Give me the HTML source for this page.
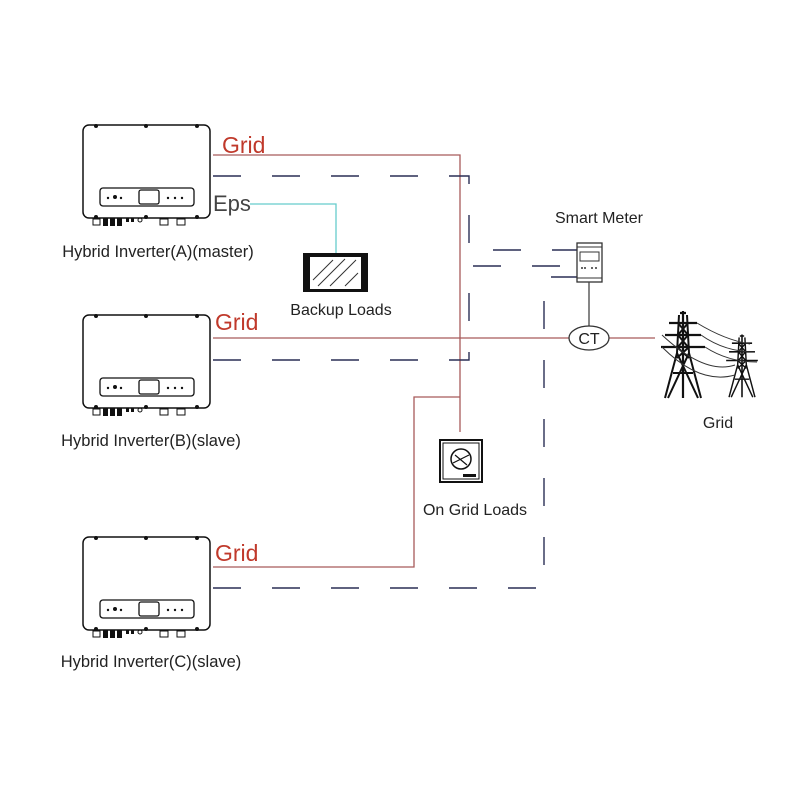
<!DOCTYPE html>
<html><head><meta charset="utf-8"><style>
html,body{margin:0;padding:0;background:#fff;}
svg{display:block;font-family:"Liberation Sans",sans-serif;}
</style></head><body>
<svg width="800" height="800" viewBox="0 0 800 800" xmlns="http://www.w3.org/2000/svg">
<defs>
<g id="inv">
  <rect x="0" y="0" width="127" height="93" rx="6" fill="#fff" stroke="#111" stroke-width="1.5"/>
  <circle cx="13" cy="1" r="2" fill="#111"/><circle cx="63" cy="1" r="2" fill="#111"/><circle cx="114" cy="1" r="2" fill="#111"/>
  <circle cx="13" cy="92" r="2" fill="#111"/><circle cx="63" cy="92" r="2" fill="#111"/><circle cx="114" cy="92" r="2" fill="#111"/>
  <rect x="17" y="63" width="94" height="18" rx="3" fill="none" stroke="#111" stroke-width="1.3"/>
  <rect x="56" y="65" width="20" height="14" rx="2" fill="none" stroke="#111" stroke-width="1.3"/>
  <circle cx="25" cy="73" r="1.2" fill="#111"/><circle cx="32" cy="72" r="2" fill="#111"/><circle cx="38" cy="73" r="1.2" fill="#111"/>
  <circle cx="85" cy="73" r="1.2" fill="#111"/><circle cx="92" cy="73" r="1.2" fill="#111"/><circle cx="99" cy="73" r="1.2" fill="#111"/>
  <rect x="10" y="94" width="7" height="6" fill="none" stroke="#111"/>
  <rect x="20" y="93" width="5" height="8" fill="#111"/><rect x="27" y="93" width="5" height="8" fill="#111"/><rect x="34" y="93" width="5" height="8" fill="#111"/>
  <rect x="43" y="93" width="3" height="4" fill="#111"/><rect x="48" y="93" width="3" height="4" fill="#111"/><circle cx="57" cy="95" r="2" fill="none" stroke="#111"/>
  <rect x="77" y="94" width="8" height="6" fill="none" stroke="#111"/><rect x="94" y="94" width="8" height="6" fill="none" stroke="#111"/>
</g>
<g id="tower">
  <path d="M0,-2 L0,85 M-3,0 L3,0 M-14,10 L14,10 M-18,22 L18,22 M-22,34 L22,34" stroke="#111" stroke-width="2.2" fill="none"/>
  <path d="M-4,2 L-6,40 L-18,85 M4,2 L6,40 L18,85 M-6,40 L15,85 M6,40 L-15,85 M-10,60 L10,60 M-5,10 L5,22 M5,10 L-5,22 M-5,22 L5,34 M5,22 L-5,34 M-6,34 L6,45 M6,34 L-6,45" stroke="#111" stroke-width="2" fill="none"/>
</g>
</defs>

<use href="#inv" x="83" y="125"/>
<use href="#inv" x="83" y="315"/>
<use href="#inv" x="83" y="537"/>
<text x="158" y="257" font-size="16.5" text-anchor="middle" fill="#222">Hybrid Inverter(A)(master)</text>
<text x="151" y="446" font-size="16.5" text-anchor="middle" fill="#222">Hybrid Inverter(B)(slave)</text>
<text x="151" y="667" font-size="16.5" text-anchor="middle" fill="#222">Hybrid Inverter(C)(slave)</text>

<g stroke="#a85a5a" stroke-width="1.3" fill="none">
  <path d="M213,155 L460,155 L460,432"/>
  <path d="M213,338 L569,338 M609,338 L655,338"/>
  <path d="M213,567 L414,567 L414,397 L460,397"/>
</g>
<text x="222" y="153" font-size="23" fill="#c0392b">Grid</text>
<text x="215" y="330" font-size="23" fill="#c0392b">Grid</text>
<text x="215" y="561" font-size="23" fill="#c0392b">Grid</text>

<g stroke="#2a2f55" stroke-width="1.4" fill="none" stroke-dasharray="28 31">
  <path d="M213,176 L469,176 L469,250 L577,250"/>
  <path d="M213,360 L469,360 L469,266 L577,266"/>
  <path d="M213,588 L544,588 L544,277 L577,277"/>
</g>

<text x="213" y="211" font-size="22" fill="#444">Eps</text>
<path d="M250,204 L336,204 L336,253" stroke="#66cccc" stroke-width="1.3" fill="none"/>
<rect x="303" y="253" width="65" height="39" fill="#111"/>
<rect x="310" y="257" width="51" height="32" fill="#fff"/>
<path d="M313,280 L333,260 M318,286 L345,259 M330,286 L356,260 M345,286 L358,273" stroke="#333" stroke-width="1"/>
<text x="341" y="315" font-size="16" text-anchor="middle" fill="#222">Backup Loads</text>

<rect x="440" y="440" width="42" height="42" fill="none" stroke="#111" stroke-width="2"/>
<rect x="443" y="443" width="36" height="36" fill="none" stroke="#111" stroke-width="1"/>
<circle cx="461" cy="459" r="10" fill="none" stroke="#111" stroke-width="1.5"/>
<path d="M453,463 L469,455 M455,455 L467,465" stroke="#111" stroke-width="1.2"/>
<rect x="463" y="474" width="13" height="3" fill="#111"/>
<text x="475" y="515" font-size="16" text-anchor="middle" fill="#222">On Grid Loads</text>

<text x="599" y="223" font-size="16" text-anchor="middle" fill="#222">Smart Meter</text>
<rect x="577" y="243" width="25" height="39" fill="#fff" stroke="#333" stroke-width="1.3"/>
<path d="M577,247 L602,247 M577,278 L602,278" stroke="#333"/>
<rect x="580" y="252" width="19" height="9" fill="none" stroke="#333"/>
<path d="M581,268 h2 M584,268 h2 M591,268 h2 M595,268 h2" stroke="#333" stroke-width="1.5"/>
<path d="M589,282 L589,326" stroke="#444" stroke-width="1.3"/>
<ellipse cx="589" cy="338" rx="20" ry="12" fill="#fff" stroke="#333" stroke-width="1.3"/>
<text x="589" y="344" font-size="16" text-anchor="middle" fill="#222">CT</text>

<use href="#tower" transform="translate(683,313)"/>
<use href="#tower" transform="translate(742,336) scale(0.72)"/>
<g stroke="#333" stroke-width="1" fill="none">
  <path d="M697,323 Q725,340 750,344"/>
  <path d="M701,335 Q725,352 755,352"/>
  <path d="M705,347 Q728,362 757,362"/>
  <path d="M662,335 Q705,375 735,365"/>
  <path d="M662,347 Q700,385 735,375"/>
</g>
<text x="718" y="428" font-size="16" text-anchor="middle" fill="#222">Grid</text>
</svg>
</body></html>
